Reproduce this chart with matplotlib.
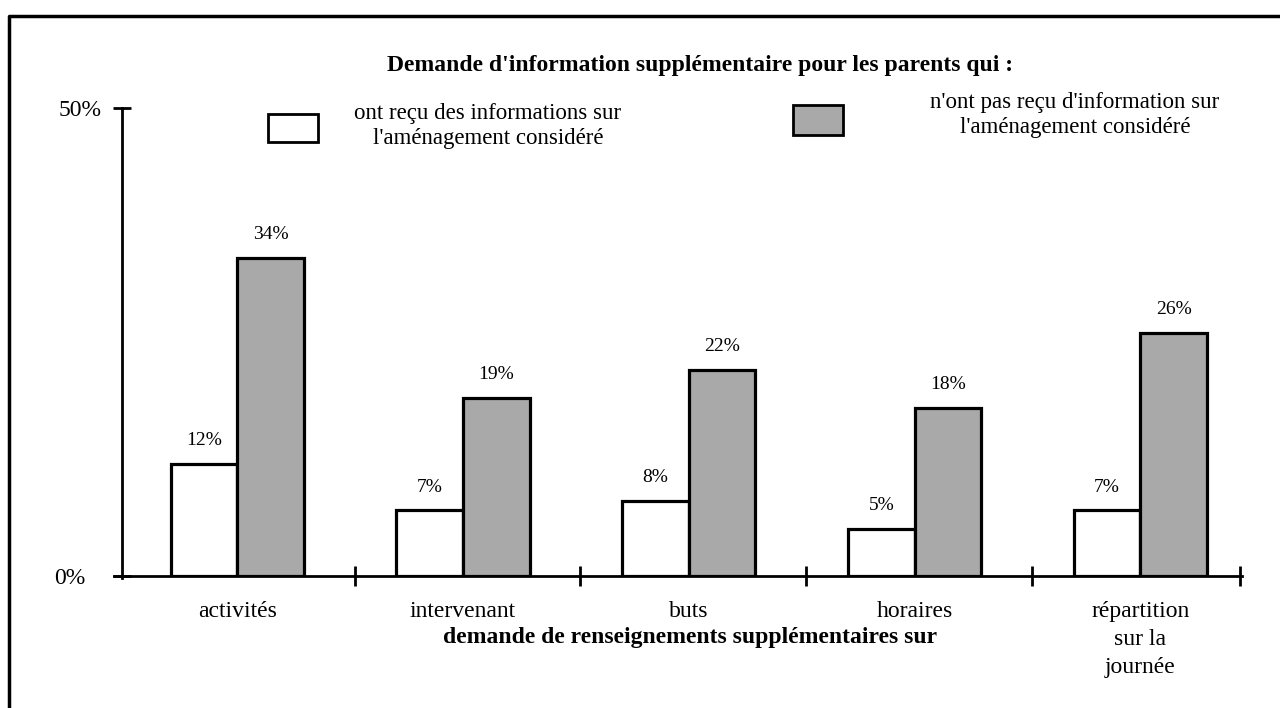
import matplotlib
matplotlib.use("Agg")
from matplotlib import pyplot as plt
from matplotlib.lines import Line2D
from matplotlib.transforms import ScaledTranslation

categories = ["activités", "intervenant", "buts", "horaires", "répartition\nsur la\njournée"]
recu = [12, 7, 8, 5, 7]
pas_recu = [34, 19, 22, 18, 26]
y_ticks = [0, 50]
y_labels = ["0%", "50%"]

plt.rcParams['font.family'] = ['Liberation Serif', 'DejaVu Serif']

fig = plt.figure(figsize=(12.8, 7.08), dpi=100)
ax = fig.add_axes([122 / 1280, 1 - 576 / 708, (1242 - 122) / 1280, (576 - 108) / 708])

x = list(range(len(categories)))
w = 0.295
x_white = [i - w / 2 for i in x]
x_grey = [i + w / 2 for i in x]
ax.bar(x_white, recu, width=w, color='white', edgecolor='black', linewidth=2.3)
ax.bar(x_grey, pas_recu, width=w, color='#a9a9a9', edgecolor='black', linewidth=2.3)

for xi, v in zip(x_white, recu):
    ax.text(xi, v + 1.6, f"{v}%", ha='center', va='bottom', fontsize=14)
for xi, v in zip(x_grey, pas_recu):
    ax.text(xi, v + 1.6, f"{v}%", ha='center', va='bottom', fontsize=14)

ax.set_xlim(-0.51, 4.45)
ax.set_ylim(0, 50)

for s in ['top', 'right']:
    ax.spines[s].set_visible(False)
ax.spines['left'].set_linewidth(2)
ax.spines['bottom'].set_linewidth(2)
ax.spines['bottom'].set_bounds(-0.545, 4.45)
ax.spines['left'].set_bounds(-0.2, 50)

ax.set_yticks(y_ticks)
ax.set_yticklabels(y_labels, fontsize=17)
ax.tick_params(axis='y', direction='inout', length=13, width=2, pad=8)
# the 0% label sits a bit further left in the original
lab0 = ax.get_yticklabels()[0]
lab0.set_transform(lab0.get_transform() + ScaledTranslation(-0.16, 0, fig.dpi_scale_trans))

ax.set_xticks(x)
ax.set_xticklabels(categories, fontsize=17, linespacing=1.45, va='top')
ax.tick_params(axis='x', which='major', length=0, pad=18)
ax.set_xticks([0.52, 1.52, 2.52, 3.52, 4.44], minor=True)
ax.tick_params(axis='x', which='minor', direction='inout', length=14, width=2)

fig.text(690 / 1280, 1 - 637 / 708, "demande de renseignements supplémentaires sur",
         ha='center', va='center', fontsize=17, fontweight='bold')
fig.text(700 / 1280, 1 - 65 / 708, "Demande d'information supplémentaire pour les parents qui :",
         ha='center', va='center', fontsize=17, fontweight='bold')

# legend boxes and texts
fig.patches.append(plt.Rectangle((268 / 1280, 1 - 142 / 708), 50 / 1280, 28 / 708,
                                 transform=fig.transFigure, facecolor='white',
                                 edgecolor='black', linewidth=2))
fig.patches.append(plt.Rectangle((793 / 1280, 1 - 135 / 708), 50 / 1280, 30 / 708,
                                 transform=fig.transFigure, facecolor='#a9a9a9',
                                 edgecolor='black', linewidth=2))
fig.text(488 / 1280, 1 - 126 / 708, "ont reçu des informations sur\nl'aménagement considéré",
         ha='center', va='center', fontsize=16.5, linespacing=1.25)
fig.text(1075 / 1280, 1 - 115 / 708, "n'ont pas reçu d'information sur\nl'aménagement considéré",
         ha='center', va='center', fontsize=16.5, linespacing=1.25)

# frame around the figure (top and left edges)
fig.lines.append(Line2D([9 / 1280, 9 / 1280, 1.0], [0.0, 1 - 16 / 708, 1 - 16 / 708],
                        transform=fig.transFigure, color='black', linewidth=2.5))

fig.savefig("out.png", dpi=100)
